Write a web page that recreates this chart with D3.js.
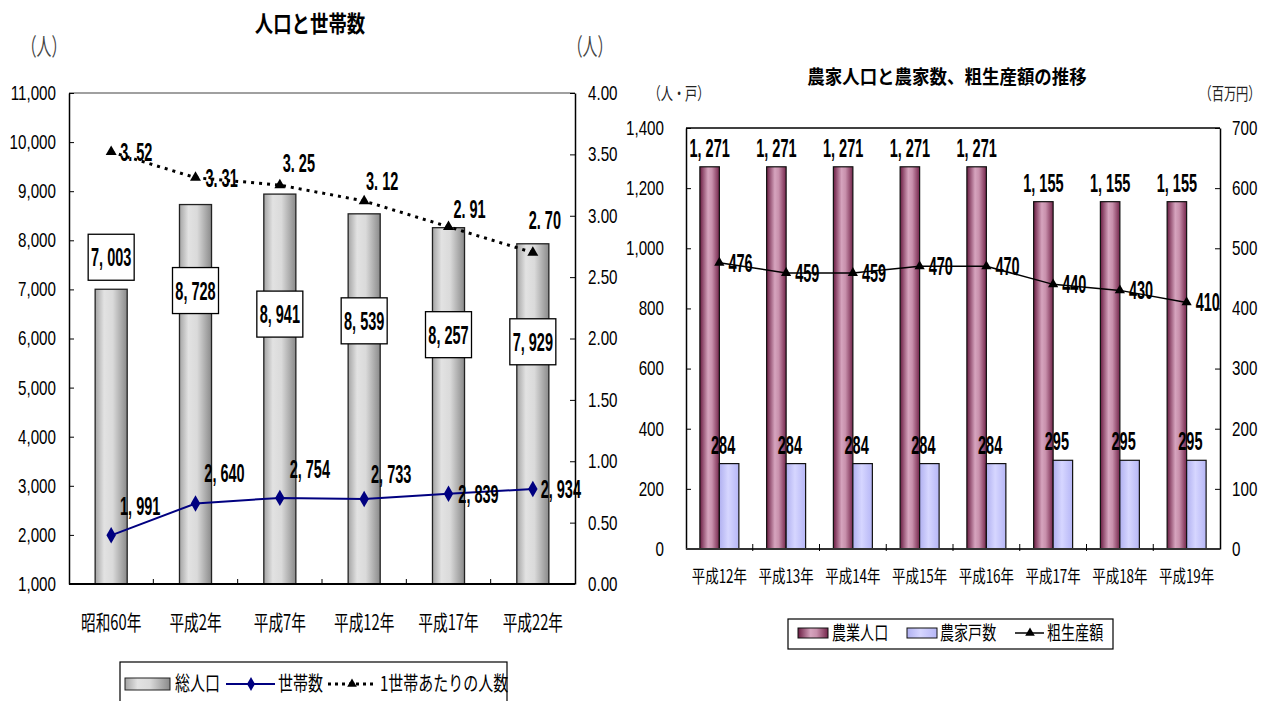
<!DOCTYPE html>
<html>
<head>
<meta charset="utf-8">
<script src="https://cdn.jsdelivr.net/npm/d3@7"></script>
<style>
  body { margin: 0; background: #fff; }
  svg { display: block; }
</style>
</head>
<body>
<svg id="chart" width="1269" height="701"></svg>
<script>
// left chart: 人口と世帯数
const years1 = ["昭和60年", "平成2年", "平成7年", "平成12年", "平成17年", "平成22年"];
const population = [7003, 8728, 8941, 8539, 8257, 7929];
const households = [1991, 2640, 2754, 2733, 2839, 2934];
const perHousehold = [3.52, 3.31, 3.25, 3.12, 2.91, 2.70];
const popTicks = [1000, 2000, 3000, 4000, 5000, 6000, 7000, 8000, 9000, 10000, 11000];
const perTicks = [0, 0.5, 1, 1.5, 2, 2.5, 3, 3.5, 4];

// right chart: 農家人口と農家数、粗生産額の推移
const years2 = ["平成12年", "平成13年", "平成14年", "平成15年", "平成16年", "平成17年", "平成18年", "平成19年"];
const farmPopulation = [1271, 1271, 1271, 1271, 1271, 1155, 1155, 1155];
const farmHouseholds = [284, 284, 284, 284, 284, 295, 295, 295];
const grossOutput = [476, 459, 459, 470, 470, 440, 430, 410];
const farmTicks = [0, 200, 400, 600, 800, 1000, 1200, 1400];
const outputTicks = [0, 100, 200, 300, 400, 500, 600, 700];

const NUM = "'Liberation Sans', Arial, sans-serif";
const JP = "'Noto Sans CJK JP', 'Noto Sans', sans-serif";
const LABEL_SX = 0.58;   // squeeze for the bold value labels
const TICK_SX = 0.76;    // squeeze for axis numbers

const svg = d3.select("#chart");
svg.append("rect").attr("width", 1269).attr("height", 701).attr("fill", "#fff");
const defs = svg.append("defs");

function hGrad(id, stops) {
  const g = defs.append("linearGradient").attr("id", id)
    .attr("x1", "0%").attr("x2", "100%").attr("y1", "0%").attr("y2", "0%");
  stops.forEach(s => g.append("stop").attr("offset", s[0]).attr("stop-color", s[1]));
}
hGrad("grayBar", [["0%", "#a4a4a4"], ["28%", "#e2e2e2"], ["55%", "#dadada"], ["100%", "#8a8a8a"]]);
hGrad("plumBar", [["0%", "#6a1c42"], ["42%", "#d6a4be"], ["62%", "#c890ac"], ["100%", "#74254b"]]);
hGrad("lavBar", [["0%", "#b0b0f0"], ["45%", "#d6d6ff"], ["100%", "#b6b6f6"]]);

// text with horizontal squeeze (the original fonts are very narrow)
function put(g, x, y, str, o) {
  o = o || {};
  return g.append("text")
    .attr("transform", `translate(${x},${y}) scale(${o.sx || 1},1)`)
    .attr("text-anchor", o.anchor || "middle")
    .attr("dy", "0.36em")
    .style("font-family", o.font || NUM)
    .style("font-size", (o.size || 18) + "px")
    .style("font-weight", o.bold ? "bold" : "normal")
    .style("fill", o.color || "#000")
    .text(str);
}
const spaced = v => d3.format(",")(v).replace(",", ", ");

function styleAxis(g, size) {
  g.select(".domain").attr("stroke", "#000").attr("stroke-width", 1.5);
  g.selectAll(".tick line").attr("stroke", "#000");
  g.selectAll(".tick text")
    .style("font-family", NUM).style("font-size", size + "px").attr("fill", "#000")
    .attr("x", function () { return +d3.select(this).attr("x") / TICK_SX; })
    .attr("transform", `scale(${TICK_SX},1)`);
}

// ---------------- left chart ----------------
const L = { left: 69, right: 575, top: 93, bottom: 584 };
const gL = svg.append("g");
const x1 = d3.scaleBand().domain(years1).range([L.left, L.right]);
const yPop = d3.scaleLinear().domain([1000, 11000]).range([L.bottom, L.top]);
const yPer = d3.scaleLinear().domain([0, 4]).range([L.bottom, L.top]);
const cx1 = i => x1(years1[i]) + x1.bandwidth() / 2;

put(gL, 310, 24, "人口と世帯数", { font: JP, size: 23, sx: 0.8, bold: true });
put(gL, 44, 46, "（人）", { font: JP, size: 24, sx: 0.62, color: "#444" });
put(gL, 590, 46, "（人）", { font: JP, size: 24, sx: 0.62, color: "#444" });

gL.append("line").attr("x1", L.left).attr("x2", L.right).attr("y1", L.top).attr("y2", L.top)
  .attr("stroke", "#808080").attr("stroke-width", 1.5);

const axL = gL.append("g").attr("transform", `translate(${L.left},0)`)
  .call(d3.axisLeft(yPop).tickValues(popTicks).tickFormat(d3.format(","))
    .tickSizeInner(-5).tickSizeOuter(0).tickPadding(13));
styleAxis(axL, 20);
const axR = gL.append("g").attr("transform", `translate(${L.right},0)`)
  .call(d3.axisRight(yPer).tickValues(perTicks).tickFormat(d3.format(".2f"))
    .tickSizeInner(-5).tickSizeOuter(0).tickPadding(13));
styleAxis(axR, 20);

// bars
const bw1 = x1.bandwidth() * 0.38;
gL.selectAll("rect.pop").data(population).join("rect").attr("class", "pop")
  .attr("x", (d, i) => cx1(i) - bw1 / 2)
  .attr("width", bw1)
  .attr("y", d => yPop(d))
  .attr("height", d => yPop(1000) - yPop(d))
  .attr("fill", "url(#grayBar)").attr("stroke", "#222").attr("stroke-width", 1.3);

// bottom axis
gL.append("line").attr("x1", L.left).attr("x2", L.right).attr("y1", L.bottom).attr("y2", L.bottom)
  .attr("stroke", "#000").attr("stroke-width", 2);
gL.selectAll("line.cat").data(years1.slice(1)).join("line").attr("class", "cat")
  .attr("x1", d => x1(d)).attr("x2", d => x1(d))
  .attr("y1", L.bottom).attr("y2", L.bottom - 5).attr("stroke", "#000");
years1.forEach((d, i) => put(gL, cx1(i), 622, d, { font: JP, size: 21, sx: 0.7 }));

// households line
gL.append("path").datum(households)
  .attr("d", d3.line().x((d, i) => cx1(i)).y(d => yPop(d)))
  .attr("fill", "none").attr("stroke", "#000080").attr("stroke-width", 2);
gL.selectAll("path.dia").data(households).join("path").attr("class", "dia")
  .attr("transform", (d, i) => `translate(${cx1(i)},${yPop(d)})`)
  .attr("d", d3.symbol(d3.symbolDiamond, 78)).attr("fill", "#000080");

// per-household dotted line
gL.append("path").datum(perHousehold)
  .attr("d", d3.line().x((d, i) => cx1(i)).y(d => yPer(d)))
  .attr("fill", "none").attr("stroke", "#000").attr("stroke-width", 3)
  .attr("stroke-dasharray", "3,5");
gL.selectAll("path.tri").data(perHousehold).join("path").attr("class", "tri")
  .attr("transform", (d, i) => `translate(${cx1(i)},${yPer(d)})`)
  .attr("d", d3.symbol(d3.symbolTriangle, 52)).attr("fill", "#000");

// value labels (offsets follow the hand-placed labels of the original)
const popLabelDy = [-32, 86, 120, 107, 107, 98];
population.forEach((v, i) => {
  const cy = yPop(v) + popLabelDy[i];
  gL.append("rect").attr("x", cx1(i) - 23).attr("y", cy - 23).attr("width", 46).attr("height", 46)
    .attr("fill", "#fff").attr("stroke", "#000").attr("stroke-width", 1.3);
  put(gL, cx1(i), cy, spaced(v), { size: 25, sx: LABEL_SX, bold: true });
});
const perLabelOff = [[9, 0], [10, 0], [19, -22], [18, -20], [21, -18], [12, -33]];
perHousehold.forEach((v, i) => {
  const [dx, dy] = perLabelOff[i];
  put(gL, cx1(i) + dx, yPer(v) + dy, v.toFixed(2).replace(".", ". "),
    { size: 25, sx: LABEL_SX, bold: true, anchor: dy === 0 ? "start" : "middle" });
});
const hhLabelOff = [[29, -29], [29, -30], [30, -29], [27, -25], [30, 0], [28, 0]];
households.forEach((v, i) => {
  const [dx, dy] = hhLabelOff[i];
  put(gL, cx1(i) + dx, yPop(v) + dy, spaced(v), { size: 25, sx: LABEL_SX, bold: true });
});

// left legend
const lg = gL.append("g");
lg.append("rect").attr("x", 120).attr("y", 662).attr("width", 387).attr("height", 60)
  .attr("fill", "#fff").attr("stroke", "#000").attr("stroke-width", 1.2);
lg.append("rect").attr("x", 125).attr("y", 678).attr("width", 45).attr("height", 12)
  .attr("fill", "url(#grayBar)").attr("stroke", "#222");
put(lg, 175, 684, "総人口", { font: JP, size: 20, sx: 0.75, anchor: "start" });
lg.append("line").attr("x1", 226).attr("x2", 275).attr("y1", 684).attr("y2", 684)
  .attr("stroke", "#000080").attr("stroke-width", 2);
lg.append("path").attr("transform", "translate(251,684)")
  .attr("d", d3.symbol(d3.symbolDiamond, 55)).attr("fill", "#000080");
put(lg, 278, 684, "世帯数", { font: JP, size: 20, sx: 0.75, anchor: "start" });
lg.append("line").attr("x1", 328).attr("x2", 375).attr("y1", 684).attr("y2", 684)
  .attr("stroke", "#000").attr("stroke-width", 3).attr("stroke-dasharray", "3,4");
lg.append("path").attr("transform", "translate(352,684)")
  .attr("d", d3.symbol(d3.symbolTriangle, 40)).attr("fill", "#000");
put(lg, 380, 684, "1世帯あたりの人数", { font: JP, size: 20, sx: 0.75, anchor: "start" });

// ---------------- right chart ----------------
const R = { left: 686, right: 1220, top: 128, bottom: 549 };
const gR = svg.append("g");
const x2 = d3.scaleBand().domain(years2).range([R.left, R.right]);
const yFarm = d3.scaleLinear().domain([0, 1400]).range([R.bottom, R.top]);
const yOut = d3.scaleLinear().domain([0, 700]).range([R.bottom, R.top]);
const cx2 = i => x2(years2[i]) + x2.bandwidth() / 2;
const bw2 = x2.bandwidth() * 0.292;

put(gR, 947, 77, "農家人口と農家数、粗生産額の推移", { font: JP, size: 19, sx: 0.92, bold: true });
put(gR, 679, 94, "（人・戸）", { font: JP, size: 17, sx: 0.72, color: "#222" });
put(gR, 1230, 94, "（百万円）", { font: JP, size: 17, sx: 0.72, color: "#222" });

gR.append("line").attr("x1", R.left).attr("x2", R.right).attr("y1", R.top).attr("y2", R.top)
  .attr("stroke", "#000").attr("stroke-width", 1.5);
const axL2 = gR.append("g").attr("transform", `translate(${R.left},0)`)
  .call(d3.axisLeft(yFarm).tickValues(farmTicks).tickFormat(d3.format(","))
    .tickSizeInner(-5).tickSizeOuter(0).tickPadding(22));
styleAxis(axL2, 20);
const axR2 = gR.append("g").attr("transform", `translate(${R.right},0)`)
  .call(d3.axisRight(yOut).tickValues(outputTicks)
    .tickSizeInner(-5).tickSizeOuter(0).tickPadding(12));
styleAxis(axR2, 20);

gR.selectAll("rect.fp").data(farmPopulation).join("rect").attr("class", "fp")
  .attr("x", (d, i) => cx2(i) - bw2).attr("width", bw2)
  .attr("y", d => yFarm(d)).attr("height", d => yFarm(0) - yFarm(d))
  .attr("fill", "url(#plumBar)").attr("stroke", "#111").attr("stroke-width", 1.2);
gR.selectAll("rect.fh").data(farmHouseholds).join("rect").attr("class", "fh")
  .attr("x", (d, i) => cx2(i)).attr("width", bw2)
  .attr("y", d => yFarm(d)).attr("height", d => yFarm(0) - yFarm(d))
  .attr("fill", "url(#lavBar)").attr("stroke", "#111").attr("stroke-width", 1.2);

gR.append("line").attr("x1", R.left).attr("x2", R.right).attr("y1", R.bottom).attr("y2", R.bottom)
  .attr("stroke", "#333").attr("stroke-width", 2);
gR.selectAll("line.cat").data(years2.slice(1)).join("line").attr("class", "cat")
  .attr("x1", d => x2(d)).attr("x2", d => x2(d))
  .attr("y1", R.bottom + 2).attr("y2", R.bottom - 5).attr("stroke", "#000");
years2.forEach((d, i) => put(gR, cx2(i), 577, d, { font: JP, size: 18, sx: 0.75 }));

gR.append("path").datum(grossOutput)
  .attr("d", d3.line().x((d, i) => cx2(i)).y(d => yOut(d)))
  .attr("fill", "none").attr("stroke", "#000").attr("stroke-width", 1.5);
gR.selectAll("path.tri").data(grossOutput).join("path").attr("class", "tri")
  .attr("transform", (d, i) => `translate(${cx2(i)},${yOut(d)})`)
  .attr("d", d3.symbol(d3.symbolTriangle, 45)).attr("fill", "#000");

farmPopulation.forEach((v, i) => put(gR, cx2(i) - bw2 / 2, yFarm(v) - 19, spaced(v), { size: 25, sx: LABEL_SX, bold: true }));
farmHouseholds.forEach((v, i) => put(gR, cx2(i) + bw2 / 2 - 6, yFarm(v) - 19, v, { size: 25, sx: LABEL_SX, bold: true }));
grossOutput.forEach((v, i) => put(gR, cx2(i) + 9, yOut(v), v, { size: 25, sx: LABEL_SX, bold: true, anchor: "start" }));

// right legend
const rg = gR.append("g");
rg.append("rect").attr("x", 788).attr("y", 619).attr("width", 325).attr("height", 30)
  .attr("fill", "#fff").attr("stroke", "#000").attr("stroke-width", 1.2);
rg.append("rect").attr("x", 798).attr("y", 628).attr("width", 30).attr("height", 10)
  .attr("fill", "url(#plumBar)").attr("stroke", "#111");
put(rg, 832, 633, "農業人口", { font: JP, size: 19, sx: 0.74, anchor: "start" });
rg.append("rect").attr("x", 907).attr("y", 628).attr("width", 30).attr("height", 10)
  .attr("fill", "url(#lavBar)").attr("stroke", "#111");
put(rg, 940, 633, "農家戸数", { font: JP, size: 19, sx: 0.74, anchor: "start" });
rg.append("line").attr("x1", 1015).attr("x2", 1044).attr("y1", 633).attr("y2", 633)
  .attr("stroke", "#000").attr("stroke-width", 1.5);
rg.append("path").attr("transform", "translate(1030,633)")
  .attr("d", d3.symbol(d3.symbolTriangle, 40)).attr("fill", "#000");
put(rg, 1047, 633, "粗生産額", { font: JP, size: 19, sx: 0.74, anchor: "start" });
</script>
</body>
</html>
